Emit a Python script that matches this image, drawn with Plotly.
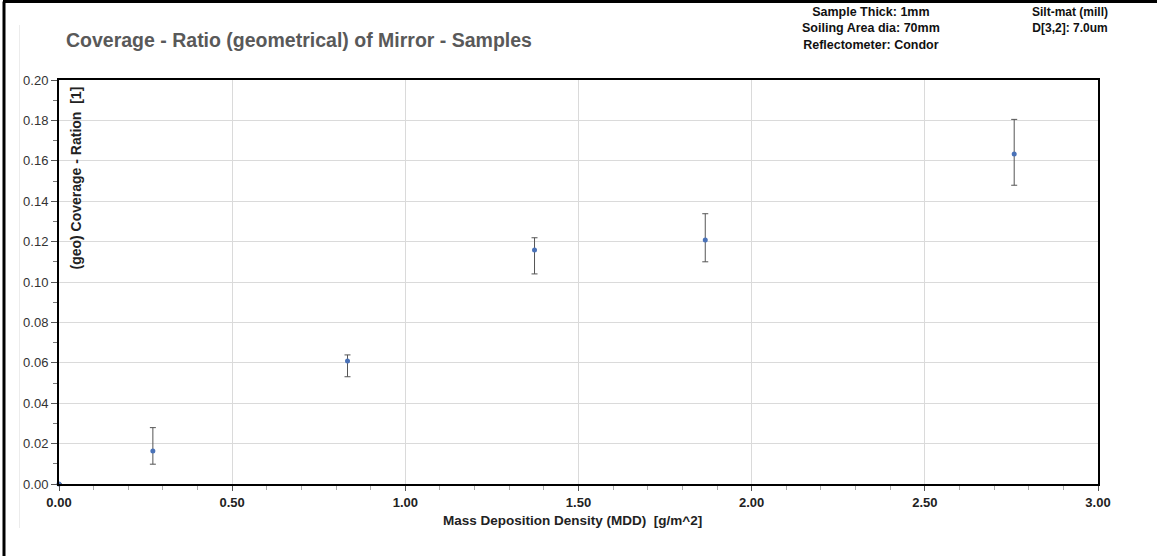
import plotly.graph_objects as go

# Data
mdd = [0.0, 0.271, 0.833, 1.373, 1.866, 2.758]
coverage = [0.0, 0.0163, 0.0609, 0.1158, 0.1208, 0.1634]
err_plus = [0.0, 0.0116, 0.0030, 0.0061, 0.0130, 0.0171]
err_minus = [0.0, 0.0065, 0.0078, 0.0118, 0.0108, 0.0155]

x_ticks = [0.0, 0.5, 1.0, 1.5, 2.0, 2.5, 3.0]
x_ticklabels = ["0.00", "0.50", "1.00", "1.50", "2.00", "2.50", "3.00"]
y_ticks = [0.0, 0.02, 0.04, 0.06, 0.08, 0.10, 0.12, 0.14, 0.16, 0.18, 0.20]
y_ticklabels = ["%.2f" % v for v in y_ticks]

W, H = 1157, 556
ML, MR, MT, MB = 59, 59, 80, 72
PW = W - ML - MR
PH = H - MT - MB

def px(x):
    return (x - ML) / PW

def py(y):
    return (H - MB - y) / PH

SANS = "Liberation Sans, Arial"

fig = go.Figure()
fig.add_trace(go.Scatter(
    x=mdd, y=coverage, mode="markers",
    marker=dict(size=5, color="#4a72b8", symbol="circle"),
    error_y=dict(type="data", symmetric=False, array=err_plus, arrayminus=err_minus,
                 color="#555555", thickness=1, width=3),
    showlegend=False, cliponaxis=False,
))

fig.update_layout(
    width=W, height=H,
    margin=dict(l=ML, r=MR, t=MT, b=MB),
    paper_bgcolor="white", plot_bgcolor="white",
    xaxis=dict(range=[0, 3], tickvals=x_ticks, ticktext=x_ticklabels,
               showgrid=True, gridcolor="#dadada", gridwidth=1,
               showline=True, linecolor="black", linewidth=2, mirror=True,
               ticks="outside", ticklen=5, tickcolor="#555555",
               minor=dict(dtick=0.1, ticks="outside", ticklen=4, tickcolor="#aaaaaa", showgrid=False),
               tickfont=dict(family=SANS, size=13, color="#222222", weight="bold"),
               zeroline=False, automargin=False),
    yaxis=dict(range=[0, 0.2], tickvals=y_ticks, ticktext=y_ticklabels,
               showgrid=True, gridcolor="#dadada", gridwidth=1,
               showline=True, linecolor="black", linewidth=2, mirror=True,
               ticks="outside", ticklen=6, tickcolor="#555555",
               minor=dict(dtick=0.01, ticks="outside", ticklen=4, tickcolor="#777777", showgrid=False),
               tickfont=dict(family=SANS, size=13, color="#333333"),
               zeroline=False, automargin=False),
    shapes=[
        dict(type="line", xref="paper", yref="paper",
             x0=px(3), x1=px(1157), y0=py(1.5), y1=py(1.5),
             line=dict(color="black", width=3), layer="above"),
        dict(type="line", xref="paper", yref="paper",
             x0=px(4), x1=px(4), y0=py(1.5), y1=py(556),
             line=dict(color="black", width=3), layer="above"),
        dict(type="line", xref="paper", yref="paper",
             x0=px(19.5), x1=px(19.5), y0=py(25), y1=py(528),
             line=dict(color="#ececec", width=1)),
    ],
    annotations=[
        dict(text="<b>Coverage - Ratio (geometrical) of Mirror - Samples</b>",
             xref="paper", yref="paper", x=px(64), y=py(40), xanchor="left", yanchor="middle",
             showarrow=False, font=dict(family=SANS, size=19.5, color="#595959")),
        dict(text="<b>Sample Thick: 1mm<br>Soiling Area dia: 70mm<br>Reflectometer: Condor</b>",
             xref="paper", yref="paper", x=px(871), y=py(3), xanchor="center", yanchor="top",
             align="center", showarrow=False,
             font=dict(family=SANS, size=12.5, color="#111111")),
        dict(text="<b>Silt-mat (mill)<br>D[3,2]: 7.0um</b>",
             xref="paper", yref="paper", x=px(1070), y=py(3), xanchor="center", yanchor="top",
             align="center", showarrow=False,
             font=dict(family=SANS, size=12, color="#111111")),
        dict(text="<b>(geo) Coverage - Ration  [1]</b>",
             xref="paper", yref="paper", x=px(75), y=py(85), xanchor="center", yanchor="top",
             textangle=-90, showarrow=False,
             font=dict(family=SANS, size=14, color="#222222")),
        dict(text="<b>Mass Deposition Density (MDD)  [g/m^2]</b>",
             xref="paper", yref="paper", x=px(572), y=py(520), xanchor="center", yanchor="middle",
             showarrow=False, font=dict(family=SANS, size=13.5, color="#222222")),
    ],
)

fig.write_html("out.html")
